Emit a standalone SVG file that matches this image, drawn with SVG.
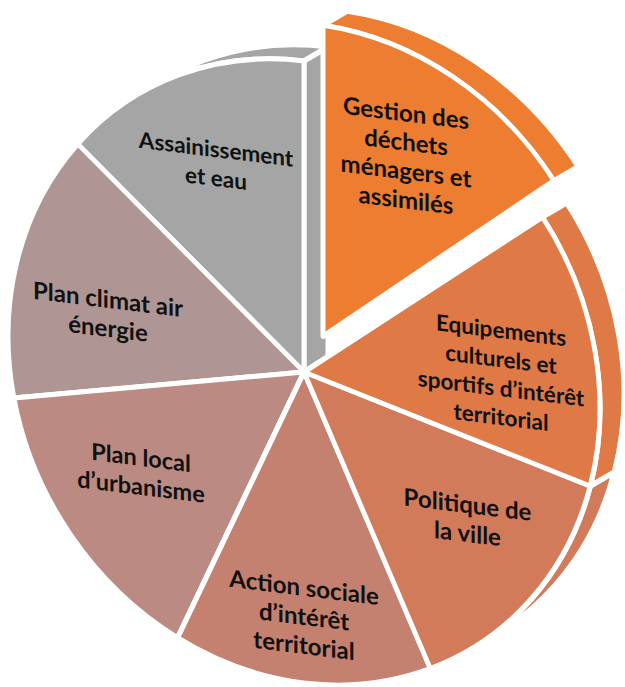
<svg xmlns="http://www.w3.org/2000/svg" width="625" height="687" viewBox="0 0 625 687">
<style>
.s{stroke:#fff;stroke-width:5;stroke-linejoin:round}
.lbl{font-family:Lato,"Open Sans","Liberation Sans",sans-serif;font-weight:700;font-size:23.5px;fill:#111;text-anchor:middle}
.c1{fill:#ED7D31}.c2{fill:#DF7946}.c3{fill:#D27B5B}.c4{fill:#C5816F}.c5{fill:#BA8A83}.c6{fill:#AF9695}.c7{fill:#A5A5A5}
</style>
<rect width="625" height="687" fill="#fff"/>
<g transform="translate(304,372) skewY(7)">
  <g id="assainissement">
    <path class="s c7" d="M-226.4,-200.3 A296,311 0 0 1 0,-311 L24,-328 A296,311 0 0 0 -202.4,-217.3 Z"/>
    <path class="s c7" d="M0,0 L0,-311 L24,-328 L24,-17 Z"/>
    <path class="s c7" d="M0,0 L-226.4,-200.3 A296,311 0 0 1 0,-311 Z"/>
    <text class="lbl" style="font-size:22.5px"><tspan x="-88" y="-204">Assainissement</tspan><tspan x="-88" y="-175">et eau</tspan></text>
  </g>
  <g id="plan-climat">
    <path class="s c6" d="M0,0 L-290.1,61.7 A296,311 0 0 1 -226.4,-200.3 Z"/>
    <text class="lbl" style="font-size:24px"><tspan x="-196" y="-40">Plan climat air</tspan><tspan x="-196" y="-11">énergie</tspan></text>
  </g>
  <g id="plan-local">
    <path class="s c5" d="M0,0 L-126.4,281.2 A296,311 0 0 1 -290.1,61.7 Z"/>
    <text class="lbl"><tspan x="-163" y="114">Plan local</tspan><tspan x="-163" y="143">d’urbanisme</tspan></text>
  </g>
  <g id="action-sociale">
    <path class="s c4" d="M0,0 L126.4,281.2 A296,311 0 0 1 -126.4,281.2 Z"/>
    <text class="lbl" style="font-size:24px"><tspan x="0" y="224">Action sociale</tspan><tspan x="0" y="253">d’intérêt</tspan><tspan x="0" y="282">territorial</tspan></text>
  </g>
  <g id="politique-ville">
    <path class="s c3" d="M286.3,78.9 A296,311 0 0 1 126.4,281.2 L150.4,264.2 A296,311 0 0 0 310.3,61.9 Z"/>
    <path class="s c3" d="M0,0 L286.3,78.9 A296,311 0 0 1 126.4,281.2 Z"/>
    <text class="lbl" style="font-size:24px"><tspan x="163.5" y="121">Politique de</tspan><tspan x="163.5" y="150">la ville</tspan></text>
  </g>
  <g id="equipements">
    <path class="s c2" d="M238.4,-184.3 A296,311 0 0 1 286.3,78.9 L310.3,61.9 A296,311 0 0 0 262.4,-201.3 Z"/>
    <path class="s c2" d="M0,0 L238.4,-184.3 A296,311 0 0 1 286.3,78.9 Z"/>
    <text class="lbl" style="font-size:22.5px"><tspan x="197" y="-58">Equipements</tspan><tspan x="197" y="-29">culturels et</tspan><tspan x="197" y="0">sportifs d’intérêt</tspan><tspan x="197" y="29">territorial</tspan></text>
  </g>
  <g id="gestion-dechets">
    <g transform="translate(19,-38)">
      <path class="s c1" d="M0,-311 A296,311 0 0 1 231,-184 L255,-201 A296,311 0 0 0 24,-328 Z"/>
      <path class="s c1" d="M0,0 L0,-311 A296,311 0 0 1 231,-184 Z"/>
    </g>
    <text class="lbl" style="font-size:24px"><tspan x="102" y="-263">Gestion des</tspan><tspan x="102" y="-234">déchets</tspan><tspan x="102" y="-205">ménagers et</tspan><tspan x="102" y="-176">assimilés</tspan></text>
  </g>
</g>
</svg>
